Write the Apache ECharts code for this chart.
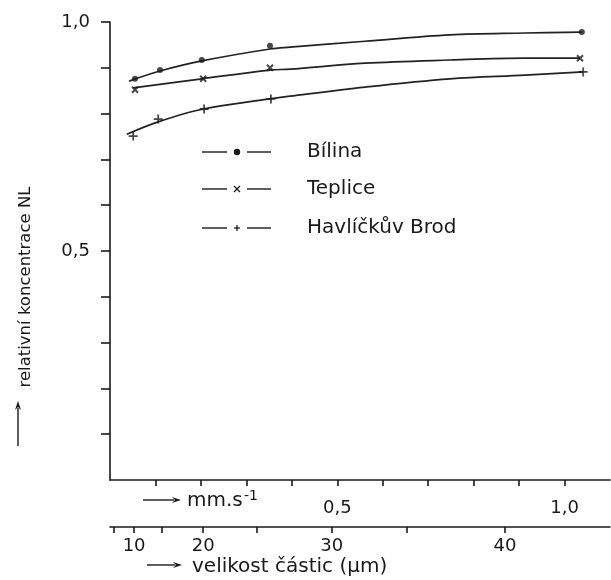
<!DOCTYPE html>
<html>
<head>
<meta charset="utf-8">
<script src="https://cdn.jsdelivr.net/npm/echarts@6/dist/echarts.min.js"></script>
<style>html,body{margin:0;padding:0;background:#fff}#c{width:611px;height:580px}</style>
</head>
<body>
<div id="c"></div>
<script>
// ---- data ----
const seriesNames = ['Bílina', 'Teplice', 'Havlíčkův Brod'];

// measured points: x = sedimentation velocity (mm/s), y = relative concentration
const bilinaPtsX = [0.055, 0.110, 0.202, 0.352, 1.038];
const bilinaPtsY = [0.876, 0.895, 0.917, 0.948, 0.978];
const teplicePtsX = [0.055, 0.205, 0.352, 1.034];
const teplicePtsY = [0.852, 0.876, 0.900, 0.921];
const brodPtsX = [0.051, 0.106, 0.207, 0.354, 1.041];
const brodPtsY = [0.751, 0.788, 0.810, 0.832, 0.891];

// drawn (fitted) curves
const bilinaCurveX = [0.042, 0.110, 0.202, 0.352, 0.396, 0.561, 0.748, 0.913, 1.038];
const bilinaCurveY = [0.871, 0.893, 0.915, 0.941, 0.945, 0.958, 0.972, 0.976, 0.978];
const teplCurveX = [0.051, 0.202, 0.352, 0.396, 0.561, 0.748, 0.913, 1.034];
const teplCurveY = [0.856, 0.876, 0.895, 0.897, 0.910, 0.917, 0.921, 0.921];
const brodCurveX = [0.037, 0.106, 0.205, 0.352, 0.396, 0.561, 0.748, 0.913, 1.041];
const brodCurveY = [0.755, 0.782, 0.810, 0.832, 0.838, 0.858, 0.876, 0.884, 0.891];

// axes
const yTicks = [0.1, 0.2, 0.3, 0.4, 0.5, 0.6, 0.7, 0.8, 0.9, 1.0];
const yLabels = [0.5, 1.0];
const velocityTicks = [0.1, 0.2, 0.3, 0.4, 0.5, 0.6, 0.7, 0.8, 0.9, 1.0];
const velocityLabels = [0.5, 1.0];
const sizeTickUm = [5, 10, 15, 20, 25, 30, 35, 40];
const sizeTickVelocity = [0.009, 0.053, 0.114, 0.205, 0.323, 0.488, 0.653, 0.869];
const sizeLabelUm = [10, 20, 30, 40];

// ---- chart ----
const INK = '#1a1a1a';
const FONT = '"DejaVu Sans", sans-serif';
const zip = (xs, ys) => xs.map((x, i) => [x, ys[i]]);
const comma = v => Number(v).toFixed(1).replace('.', ',');

const symX = 'path://M0,0L10,10M10,0L0,10';
const symPlus = 'path://M5,0L5,10M0,5L10,5';
const markers = [
  { symbol: 'circle', size: 6, style: { color: INK, borderWidth: 0 } },
  { symbol: symX, size: 6, style: { color: 'rgba(0,0,0,0)', borderColor: INK, borderWidth: 2 } },
  { symbol: symPlus, size: 9, style: { color: 'rgba(0,0,0,0)', borderColor: INK, borderWidth: 1.8 } }
];
const curves = [zip(bilinaCurveX, bilinaCurveY), zip(teplCurveX, teplCurveY), zip(brodCurveX, brodCurveY)];
const points = [zip(bilinaPtsX, bilinaPtsY), zip(teplicePtsX, teplicePtsY), zip(brodPtsX, brodPtsY)];

const series = [];
seriesNames.forEach((name, i) => {
  series.push({
    name: name, type: 'line', data: curves[i], smooth: 0.35, showSymbol: false,
    lineStyle: { color: '#222', width: 1.7 }, silent: true, z: 2
  });
  series.push({
    name: name, type: 'scatter', data: points[i], symbol: markers[i].symbol,
    symbolSize: markers[i].size, itemStyle: markers[i].style, z: 3
  });
});

// legend drawn as graphic (dash – marker – dash, label)
const legendRowsY = [152, 189, 228];
const graphic = [];
seriesNames.forEach((name, i) => {
  const y = legendRowsY[i];
  graphic.push({ type: 'line', shape: { x1: 202, y1: y, x2: 227, y2: y }, style: { stroke: INK, lineWidth: 1.4 } });
  graphic.push({ type: 'line', shape: { x1: 247, y1: y, x2: 271, y2: y }, style: { stroke: INK, lineWidth: 1.4 } });
  if (i === 0) {
    graphic.push({ type: 'circle', shape: { cx: 237, cy: y, r: 3.2 }, style: { fill: INK } });
  } else if (i === 1) {
    graphic.push({ type: 'line', shape: { x1: 234, y1: y - 3, x2: 240, y2: y + 3 }, style: { stroke: INK, lineWidth: 1.3 } });
    graphic.push({ type: 'line', shape: { x1: 240, y1: y - 3, x2: 234, y2: y + 3 }, style: { stroke: INK, lineWidth: 1.3 } });
  } else {
    graphic.push({ type: 'line', shape: { x1: 234, y1: y, x2: 240, y2: y }, style: { stroke: INK, lineWidth: 1.3 } });
    graphic.push({ type: 'line', shape: { x1: 237, y1: y - 3, x2: 237, y2: y + 3 }, style: { stroke: INK, lineWidth: 1.3 } });
  }
  graphic.push({ type: 'text', x: 307, y: y, style: { text: name, font: '20px ' + FONT, fill: INK, textAlign: 'left', textVerticalAlign: 'middle', align: 'left', verticalAlign: 'middle' } });
});

function arrow(x1, y1, x2, y2) {
  const dx = x2 - x1, dy = y2 - y1, L = Math.hypot(dx, dy), ux = dx / L, uy = dy / L;
  const hx = x2 - ux * 9, hy = y2 - uy * 9;
  return [
    { type: 'line', shape: { x1: x1, y1: y1, x2: hx + ux * 2, y2: hy + uy * 2 }, style: { stroke: INK, lineWidth: 1.4 } },
    { type: 'polygon', shape: { points: [[x2, y2], [hx - uy * 3, hy + ux * 3], [hx + ux * 3, hy + uy * 3], [hx + uy * 3, hy - ux * 3]] }, style: { fill: INK } }
  ];
}
// y-axis title
graphic.push({ type: 'text', x: 26, y: 287, rotation: Math.PI / 2,
  style: { text: 'relativní koncentrace NL', font: '16.5px ' + FONT, fill: INK, textAlign: 'center', textVerticalAlign: 'middle', align: 'center', verticalAlign: 'middle' } });
graphic.push(...arrow(18, 446, 18, 401));
// velocity axis title
graphic.push(...arrow(143, 500, 181, 500));
graphic.push({ type: 'text', x: 187, y: 501, style: { text: 'mm.s', font: '20px ' + FONT, fill: INK, textAlign: 'left', textVerticalAlign: 'middle', align: 'left', verticalAlign: 'middle' } });
graphic.push({ type: 'text', x: 244, y: 496, style: { text: '-1', font: '14px ' + FONT, fill: INK, textAlign: 'left', textVerticalAlign: 'middle', align: 'left', verticalAlign: 'middle' } });
// particle size title
graphic.push(...arrow(147, 565, 182, 565));
graphic.push({ type: 'text', x: 192, y: 567, style: { text: 'velikost částic (µm)', font: '20px ' + FONT, fill: INK, textAlign: 'left', textVerticalAlign: 'middle', align: 'left', verticalAlign: 'middle' } });

const sizeLabelVel = sizeLabelUm.map(d => sizeTickVelocity[sizeTickUm.indexOf(d)]);
function sizeFromVel(v) {
  let best = 0;
  sizeTickVelocity.forEach((tv, i) => { if (Math.abs(tv - v) < Math.abs(sizeTickVelocity[best] - v)) best = i; });
  return String(sizeTickUm[best]);
}

const option = {
  backgroundColor: '#fff',
  animation: false,
  grid: { left: 110, right: 1, top: 22, bottom: 100, containLabel: false, outerBoundsMode: 'none' },
  xAxis: [
    {
      type: 'value', position: 'bottom', min: 0, max: 1.1,
      axisLine: { show: true, onZero: false, lineStyle: { color: INK, width: 1.6 } },
      axisTick: { show: true, length: 6, customValues: velocityTicks, lineStyle: { color: INK, width: 1.6 } },
      axisLabel: { show: true, customValues: velocityLabels, formatter: v => comma(v), margin: 19,
        color: INK, fontSize: 18, fontFamily: FONT, hideOverlap: false },
      splitLine: { show: false }
    },
    {
      type: 'value', position: 'bottom', offset: 47, min: 0, max: 1.1,
      axisLine: { show: true, onZero: false, lineStyle: { color: INK, width: 1.6 } },
      axisTick: { show: true, length: 6, customValues: sizeTickVelocity, lineStyle: { color: INK, width: 1.6 } },
      axisLabel: { show: true, customValues: sizeLabelVel, formatter: v => sizeFromVel(v), margin: 10,
        color: INK, fontSize: 18, fontFamily: FONT },
      splitLine: { show: false }
    }
  ],
  yAxis: {
    type: 'value', min: 0, max: 1.0,
    axisLine: { show: true, onZero: false, lineStyle: { color: INK, width: 1.6 } },
    axisTick: { show: true, length: 9, customValues: yTicks, lineStyle: { color: INK, width: 1.6 } },
    axisLabel: { show: true, customValues: yLabels, formatter: v => comma(v), margin: 20,
      color: INK, fontSize: 18, fontFamily: FONT },
    splitLine: { show: false }
  },
  series: series,
  graphic: graphic
};

const chart = echarts.init(document.getElementById('c'), null, { renderer: 'canvas' });
chart.setOption(option);
</script>
</body>
</html>
